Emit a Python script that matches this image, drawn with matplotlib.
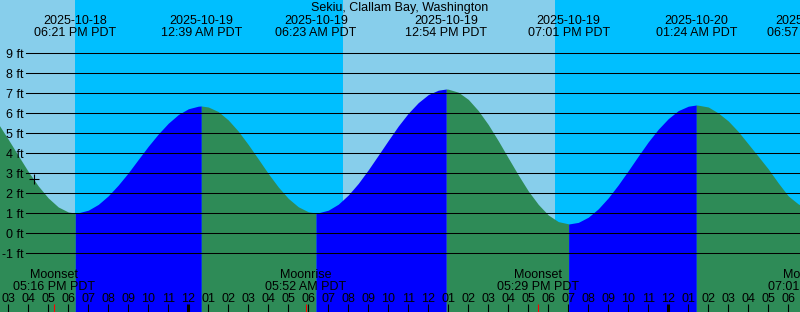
import numpy as np
import pandas as pd
import matplotlib
matplotlib.use("Agg")
import matplotlib.pyplot as plt

plt.rcParams["font.family"] = ["Liberation Sans", "DejaVu Sans"]

station = "Sekiu, Clallam Bay, Washington"

# tide height (ft) every half hour, starting at tide_start
tide_start = "2025-10-18 14:00"
tide_ft = [6.15, 5.46, 4.68, 3.87, 3.07, 2.35, 1.75, 1.30, 1.05, 1.01,
           1.14, 1.43, 1.86, 2.40, 3.01, 3.68, 4.34, 4.95, 5.49, 5.92,
           6.21, 6.34, 6.30, 6.07, 5.65, 5.09, 4.42, 3.70, 2.97, 2.30,
           1.73, 1.31, 1.06, 1.01, 1.14, 1.44, 1.90, 2.48, 3.16, 3.89,
           4.63, 5.35, 5.99, 6.52, 6.92, 7.14, 7.19, 7.04, 6.68, 6.12,
           5.42, 4.61, 3.75, 2.90, 2.10, 1.43, 0.90, 0.57, 0.46, 0.53,
           0.79, 1.21, 1.76, 2.41, 3.12, 3.85, 4.56, 5.19, 5.72, 6.12,
           6.34, 6.39, 6.30, 6.00, 5.60, 5.07, 4.45, 3.83, 3.20, 2.50,
           1.85, 1.45, 1.26]

# highs and lows labelled along the top
extreme_times = ["2025-10-18 18:21", "2025-10-19 00:39", "2025-10-19 06:23",
                 "2025-10-19 12:54", "2025-10-19 19:01", "2025-10-20 01:24",
                 "2025-10-20 06:57"]
extreme_ft = [1.0, 6.35, 1.0, 7.2, 0.45, 6.4, 1.25]

# sunset / sunrise switch the background between day and night
sun_times = ["2025-10-18 18:20", "2025-10-19 07:44", "2025-10-19 18:20"]
sun_events = ["set", "rise", "set"]

moon_times = ["2025-10-18 17:16", "2025-10-19 05:52", "2025-10-19 17:29", "2025-10-20 07:01"]
moon_events = ["Moonset", "Moonrise", "Moonset", "Moonrise"]

now_time = "2025-10-18 16:17"
now_ft = 2.7

grid_ft = list(range(-1, 10))

# colours
day_col = "#87ceeb"
night_col = "#00bfff"
rise_col = "#0000ff"
fall_col = "#2e8b57"

W, H = 800, 312
view_start = pd.Timestamp("2025-10-18 14:35:06")
view_end = view_start + pd.Timedelta(hours=40)


def yfrac(ypix):
    # pixel row (from top) -> axes fraction
    return 1 - ypix / H


fig = plt.figure(figsize=(W / 100, H / 100), dpi=100)
ax = fig.add_axes([0, 0, 1, 1])
ax.set_axis_off()
ax.set_xlim(view_start, view_end)
ax.set_ylim(-3.95, 11.65)

# background: night everywhere, day spans on top
ax.axvspan(view_start, view_end, color=night_col, lw=0)
sun_t = [pd.Timestamp(s) for s in sun_times]
edges = [view_start - pd.Timedelta(hours=1)] + sun_t + [view_end + pd.Timedelta(hours=1)]
for a, b, ev in zip(edges[:-1], edges[1:], sun_events + ["rise"]):
    if ev == "set":
        ax.axvspan(a, b, color=day_col, lw=0)

# tide curve: half-hourly readings plus the extremes, coloured by direction
tide = pd.concat([
    pd.DataFrame({"t": pd.date_range(tide_start, periods=len(tide_ft), freq="30min"), "ft": tide_ft}),
    pd.DataFrame({"t": pd.to_datetime(extreme_times), "ft": extreme_ft}),
]).sort_values("t").reset_index(drop=True)
t = tide["t"].to_numpy()
h = tide["ft"].to_numpy()
going_up = np.diff(h) > 0
start = 0
for i in range(1, len(going_up) + 1):
    if i == len(going_up) or going_up[i] != going_up[start]:
        seg = slice(start, i + 1)
        ax.fill_between(t[seg], h[seg], -5, color=rise_col if going_up[start] else fall_col, lw=0)
        start = i

fs = 9

# horizontal rules with ft labels
ytr = ax.get_yaxis_transform()
for lvl in grid_ft:
    ax.axhline(lvl, xmin=26 / W, xmax=1, color="black", lw=0.75)
    ax.text(24 / W, lvl - 0.25, f"{lvl} ft", transform=ytr, ha="right", va="baseline", fontsize=fs)

# title and extreme labels
fig.text(0.5, yfrac(11), station, ha="center", va="baseline", fontsize=fs)
xtr = ax.get_xaxis_transform()
for et in pd.to_datetime(extreme_times):
    ax.text(et, yfrac(24), et.strftime("%Y-%m-%d"), transform=xtr, ha="center", va="baseline", fontsize=fs)
    ax.text(et, yfrac(36), et.strftime("%I:%M %p PDT"), transform=xtr, ha="center", va="baseline", fontsize=fs)

# now marker
ax.plot(pd.Timestamp(now_time), now_ft, marker="+", ms=6.5, mew=0.8, color="black")

# moon events along the bottom
for mt, ev in zip(pd.to_datetime(moon_times), moon_events):
    ax.text(mt, yfrac(278.5), ev, transform=xtr, ha="center", va="baseline", fontsize=fs)
    ax.text(mt, yfrac(290), mt.strftime("%I:%M %p PDT"), transform=xtr, ha="center", va="baseline", fontsize=fs)
    ax.vlines(mt, 0, 8 / H, transform=xtr, color="red", lw=0.8)

# hour ticks, midnight drawn heavier
hours = pd.date_range("2025-10-18 15:00", "2025-10-20 06:00", freq="h")
for hr in hours:
    ax.vlines(hr, 0, 8 / H, transform=xtr, color="black", lw=2.2 if hr.hour == 0 else 0.8)
    ax.text(hr, yfrac(302), hr.strftime("%I"), transform=xtr, ha="center", va="baseline", fontsize=fs)

fig.savefig("out.png", dpi=100)
